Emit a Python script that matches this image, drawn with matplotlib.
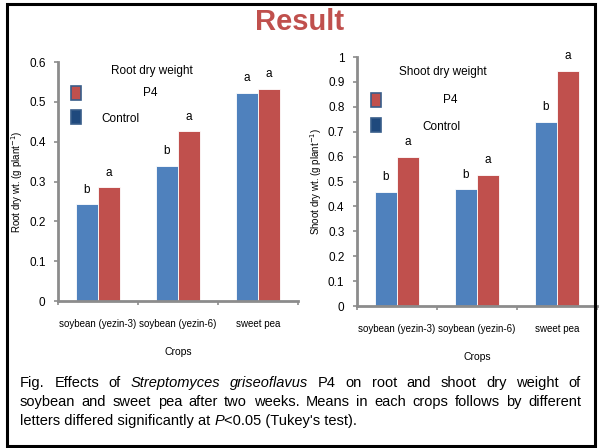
import matplotlib
matplotlib.use("Agg")
import matplotlib.pyplot as plt
from matplotlib.patches import Rectangle
import numpy as np

plt.rcParams['font.family'] = ['Liberation Sans', 'DejaVu Sans']

crops = ["soybean (yezin-3)", "soybean (yezin-6)", "sweet pea"]
root_control = [0.243, 0.340, 0.523]
root_p4 = [0.285, 0.426, 0.533]
shoot_control = [0.459, 0.469, 0.740]
shoot_p4 = [0.600, 0.526, 0.944]
root_letters_control = ["b", "b", "a"]
root_letters_p4 = ["a", "a", "a"]
shoot_letters_control = ["b", "b", "b"]
shoot_letters_p4 = ["a", "a", "a"]
root_yticks = [0, 0.1, 0.2, 0.3, 0.4, 0.5, 0.6]
root_ylabels = ["0", "0.1", "0.2", "0.3", "0.4", "0.5", "0.6"]
shoot_yticks = [0, 0.1, 0.2, 0.3, 0.4, 0.5, 0.6, 0.7, 0.8, 0.9, 1.0]
shoot_ylabels = ["0", "0.1", "0.2", "0.3", "0.4", "0.5", "0.6", "0.7", "0.8", "0.9", "1"]

BLUE = "#4F81BD"
RED = "#C0504D"
DARKBLUE = "#1F497D"
GRAY = "#8C8C8C"

W, H = 599, 448
fig = plt.figure(figsize=(W / 100, H / 100), dpi=100)


def fx(px):
    return px / W


def fy(py):
    return 1 - py / H


def make_panel(rect, control, p4, lc, lp, yticks, ylabels, ymax, ylabel, title,
               ylab_x, leg):
    ax = fig.add_axes(rect)
    x = np.arange(len(crops))
    w = 0.28
    ax.bar(x - w / 2, control, width=w, color=BLUE, edgecolor="white", linewidth=0.6)
    ax.bar(x + w / 2, p4, width=w, color=RED, edgecolor="white", linewidth=0.6)
    off = ymax * 0.035
    for i in range(len(crops)):
        ax.text(x[i] - w / 2, control[i] + off, lc[i], ha="center", va="bottom", fontsize=8.5)
        ax.text(x[i] + w / 2, p4[i] + off, lp[i], ha="center", va="bottom", fontsize=8.5)
    ax.set_xlim(-0.5, len(crops) - 0.5)
    ax.set_ylim(0, ymax)
    ax.set_yticks(yticks)
    ax.set_yticklabels(ylabels, fontsize=8.5)
    ax.set_xticks([-0.5, 0.5, 1.5, 2.5])
    ax.set_xticklabels([])
    ax.set_xticks(x, minor=True)
    ax.set_xticklabels(crops, minor=True, fontsize=7)
    ax.tick_params(axis="x", which="minor", length=0, pad=13)
    ax.tick_params(axis="x", which="major", length=3, color=GRAY, width=1.2, direction="out")
    ax.tick_params(axis="y", length=3, color=GRAY, width=1.2, direction="out", pad=6)
    for s in ["top", "right"]:
        ax.spines[s].set_visible(False)
    for s in ["left", "bottom"]:
        ax.spines[s].set_color(GRAY)
        ax.spines[s].set_linewidth(2)
    ax.set_xlabel("Crops", fontsize=7.5, labelpad=13)
    fig.text(fx(ylab_x), rect[1] + rect[3] / 2, ylabel, rotation=90, ha="center",
             va="center", fontsize=7)
    # legend drawn manually
    (tx, ty), (px1, py1), (p4x, p4y), (px2, py2), (cx, cy) = leg
    fig.text(fx(tx), fy(ty), title, ha="center", va="center", fontsize=8.5)
    fig.patches.append(Rectangle((fx(px1), fy(py1 + 14)), fx(10), 14 / H,
                                 facecolor=RED, edgecolor="#385D8A", linewidth=1.2,
                                 transform=fig.transFigure))
    fig.text(fx(p4x), fy(p4y), "P4", ha="center", va="center", fontsize=8.5)
    fig.patches.append(Rectangle((fx(px2), fy(py2 + 14)), fx(10), 14 / H,
                                 facecolor=DARKBLUE, edgecolor="#385D8A", linewidth=1.2,
                                 transform=fig.transFigure))
    fig.text(fx(cx), fy(cy), "Control", ha="center", va="center", fontsize=8.5)
    return ax


make_panel([fx(58), fy(301), fx(240), 239 / H], root_control, root_p4,
           root_letters_control, root_letters_p4, root_yticks, root_ylabels, 0.6,
           r"Root dry wt. (g plant$^{-1}$)", "Root dry weight", 17,
           [(152, 71), (71, 86), (150, 93), (71, 110), (120, 119)])
make_panel([fx(357), fy(306), fx(240), 249 / H], shoot_control, shoot_p4,
           shoot_letters_control, shoot_letters_p4, shoot_yticks, shoot_ylabels, 1.0,
           r"Shoot dry wt. (g plant$^{-1}$)", "Shoot dry weight", 316,
           [(443, 72), (371, 93), (450, 100), (371, 118), (441, 127)])

# Title
fig.text(fx(300), fy(22), "Result", ha="center", va="center", fontsize=21,
         fontweight="bold", color=RED)

# Frame
fig.patches.append(Rectangle((fx(7), fy(446)), fx(588), 442 / H, fill=False,
                             edgecolor="black", linewidth=2.2, transform=fig.transFigure))

# Caption (justified manually)
lines = [
    ([("Fig.", "normal"), ("Effects", "normal"), ("of", "normal"),
      ("Streptomyces", "italic"), ("griseoflavus", "italic"), ("P4", "normal"),
      ("on", "normal"), ("root", "normal"), ("and", "normal"), ("shoot", "normal"),
      ("dry", "normal"), ("weight", "normal"), ("of", "normal")], True, 383),
    ([("soybean", "normal"), ("and", "normal"), ("sweet", "normal"), ("pea", "normal"),
      ("after", "normal"), ("two", "normal"), ("weeks.", "normal"), ("Means", "normal"),
      ("in", "normal"), ("each", "normal"), ("crops", "normal"), ("follows", "normal"),
      ("by", "normal"), ("different", "normal")], True, 402),
]
fig.canvas.draw()
renderer = fig.canvas.get_renderer()
left, right = 20, 581
cap_fs = 10.5
for words, justify, ypix in lines:
    texts = []
    widths = []
    for wd, st in words:
        t = fig.text(0, fy(ypix), wd, fontsize=cap_fs, style=st, ha="left", va="center")
        bb = t.get_window_extent(renderer)
        texts.append(t)
        widths.append(bb.width)
    gap = (right - left - sum(widths)) / (len(words) - 1)
    xp = left
    for t, wdt in zip(texts, widths):
        t.set_x(fx(xp))
        xp += wdt + gap

# third line (left aligned, mixed style)
seg = [("letters differed significantly at ", "normal"), ("P", "italic"),
       ("<0.05 (Tukey's test).", "normal")]
xp = left
for s, st in seg:
    t = fig.text(fx(xp), fy(421), s, fontsize=cap_fs, style=st, ha="left", va="center")
    xp += t.get_window_extent(renderer).width

fig.savefig("out.png", dpi=100)
